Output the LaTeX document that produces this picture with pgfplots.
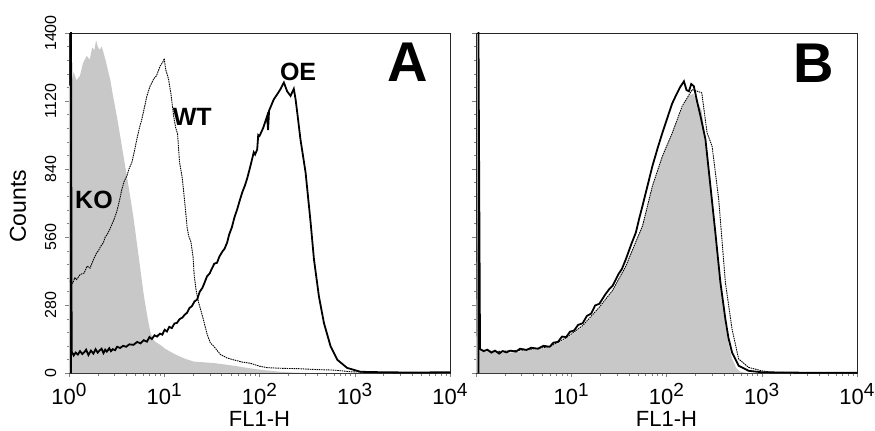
\documentclass[border=0pt]{standalone}
\usepackage{fontspec}
\setmainfont{Liberation Sans}
\usepackage{pgfplots}
\pgfplotsset{compat=1.18}

\definecolor{FillGray}{RGB}{200,200,200}
\newcommand{\dec}[1]{10\raisebox{8bp}{\fontsize{19bp}{19bp}\selectfont #1}}

\tikzset{
  dottedcurve/.style={black, line width=0.9bp, dash pattern=on 1.5bp off 0.8bp},
  solidcurve/.style={black, line width=1.8bp},
  grayfill/.style={fill=FillGray, draw=none},
  curvetag/.style={font=\bfseries\fontsize{25bp}{28bp}\selectfont},
  paneltag/.style={font=\bfseries\fontsize{56bp}{60bp}\selectfont},
}

\begin{document}
\begin{tikzpicture}
\useasboundingbox (-69bp,-58bp) rectangle (806bp,373bp);

% ---------------- panel A ----------------
\begin{axis}[
  at={(0bp,0bp)}, anchor=south west,
  scale only axis, width=381bp, height=340bp,
  xmode=log, xmin=1, xmax=10000, ymin=0, ymax=1400,
  xtick={1,10,100,1000,10000},
  minor xtick={2,3,4,5,6,7,8,9,20,30,40,50,60,70,80,90,200,300,400,500,600,700,800,900,2000,3000,4000,5000,6000,7000,8000,9000},
  ytick={0,280,560,840,1120,1400}, minor y tick num=4,
  xtick pos=bottom, ytick pos=left, tick align=outside,
  major tick length=4bp, minor tick length=2.5bp,
  axis line style={black!85, line width=0.8bp},
  xticklabel style={font=\fontsize{22bp}{24bp}\selectfont, anchor=base, inner sep=0pt, yshift=-27bp},
  yticklabel style={font=\fontsize{16bp}{18bp}\selectfont, xshift=-9bp, rotate=90, anchor=base, inner sep=0pt},
  xticklabels={\dec{0},\dec{1},\dec{2},\dec{3},\dec{4}},
  yticklabels={0,280,560,840,1120,1400},
  xlabel={FL1-H},
  xlabel style={at={(axis description cs:0.5,-0.157)}, anchor=base, inner sep=0pt,
                font=\fontsize{22bp}{24bp}\selectfont},
  ylabel={Counts},
  ylabel style={at={(axis description cs:-0.134,0.49)}, anchor=center,
                font=\fontsize{23bp}{25bp}\selectfont}]
% KO
\addplot[grayfill] coordinates {
 (1.0,1180)(1.06,1195)(1.12,1240)(1.2,1205)(1.306,1225)(1.4,1275)(1.535,1306)
 (1.65,1290)(1.75,1340)(1.85,1330)(1.923,1370)(2.0,1345)(2.1,1330)(2.2,1345)
 (2.296,1321)(2.45,1280)(2.55,1250)(2.704,1210)(2.9,1140)(3.177,1058)(3.45,975)
 (3.733,893)(4.05,810)(4.385,728)(4.75,640)(5.152,537)(5.6,430)(6.053,330)
 (6.4,270)(6.839,206)(7.2,165)(7.709,136)(8.3,125)(9.078,116)(10.2,100)
 (11.56,88)(13,77)(14.72,67)(17,57)(20.42,47)(26,44)(33.1,41)(45,34)(60,27)
 (74.1,21)(100,14)(130,9)(166,5)(220,2)(316,0)(10000,0)
} \closedcycle;
% WT
\addplot[dottedcurve] coordinates {
 (1.02,378)(1.094,370)(1.15,392)(1.202,385)(1.306,405)(1.445,412)(1.55,440)
 (1.663,432)(1.820,470)(1.954,495)(2.05,505)(2.138,520)(2.296,537)(2.4,560)
 (2.512,570)(2.704,595)(2.951,630)(3.177,665)(3.388,710)(3.589,756)(3.802,790)
 (4.046,811)(4.266,840)(4.571,867)(4.898,920)(5.152,962)(5.495,1010)
 (5.821,1045)(6.166,1090)(6.577,1141)(7.079,1180)(7.727,1210)(8.318,1225)
 (9.078,1265)(9.661,1280)(10.0,1295)(10.35,1250)(11.09,1210)(11.75,1150)
 (12.53,1060)(13.18,1010)(13.80,985)(14.45,870)(15.49,800)(16.63,680)
 (17.38,600)(18.03,565)(19.05,540)(20.04,480)(20.65,400)(21.63,340)(22.96,290)
 (24.55,250)(25.94,215)(28.18,160)(30.48,124)(33.11,110)(38.90,76)(45.71,62)
 (53.70,54)(66.07,45)(80.35,40)(100,28)(120.2,22)(177.8,19)(251.2,18)
 (398.1,14)(602.6,12)(912.0,5)(1585,2)(3981,1)(10000,1)
};
% OE
\addplot[solidcurve] coordinates {
 (1.05,0)(1.05,1450)(1.067,88)(1.12,72)(1.175,84)(1.24,76)(1.306,90)(1.38,78)
 (1.45,86)(1.514,96)(1.6,74)(1.7,92)(1.803,80)(1.9,98)(2.0,84)(2.089,92)
 (2.2,100)(2.3,82)(2.4,96)(2.495,88)(2.65,102)(2.75,90)(2.884,98)(3.05,94)
 (3.2,108)(3.443,103)(3.7,112)(3.981,108)(4.3,118)(4.753,116)(5.2,128)
 (5.623,122)(6.1,135)(6.577,129)(7.0,148)(7.413,140)(7.9,155)(8.375,150)
 (9.0,162)(9.550,158)(10.1,178)(10.67,171)(11.3,190)(12.02,185)(12.8,204)
 (13.58,206)(14.5,222)(15.49,228)(16.4,240)(17.34,248)(18.4,268)(19.50,275)
 (20.8,295)(22.08,302)(23.6,335)(25.12,350)(26.5,372)(28.12,398)(30,410)
 (31.62,430)(33.5,450)(35.81,454)(38,480)(40.74,500)(43,512)(45.71,537)
 (48,570)(51.29,600)(54.5,640)(58.21,673)(62,710)(66.07,745)(70,770)
 (74.13,800)(80,850)(87.10,909)(90,900)(94.62,921)(97,980)(100,976)
 (109.6,1010)(120.2,1058)(123,1000)(126,1080)(141.3,1127)(154.9,1150)
 (166.0,1169)(180.3,1196)(195.0,1160)(211.8,1141)(229.1,1170)(239.3,1127)
 (251.2,1060)(269.2,962)(304.8,825)(344.4,618)(373.3,467)(420.7,315)
 (475.3,205)(558.5,109)(657.7,54)(831.8,21)(1148,5)(1995,3)(3981,2)(10000,3)
};
\node[curvetag] at (axis cs:1.83,714) {KO};
\node[curvetag] at (axis cs:19.7,1055) {WT};
\node[curvetag] at (axis cs:254,1241) {OE};
\node[paneltag] at (axis cs:3614,1280) {A};
\end{axis}

% ---------------- panel B ----------------
\begin{axis}[
  at={(407bp,0bp)}, anchor=south west,
  scale only axis, width=381bp, height=340bp,
  xmode=log, xmin=1, xmax=10000, ymin=0, ymax=1400,
  xtick={1,10,100,1000,10000},
  minor xtick={2,3,4,5,6,7,8,9,20,30,40,50,60,70,80,90,200,300,400,500,600,700,800,900,2000,3000,4000,5000,6000,7000,8000,9000},
  ytick={0,280,560,840,1120,1400}, minor y tick num=4,
  xtick pos=bottom, ytick pos=left, tick align=outside,
  major tick length=4bp, minor tick length=2.5bp,
  axis line style={black!85, line width=0.8bp},
  xticklabel style={font=\fontsize{22bp}{24bp}\selectfont, anchor=base, inner sep=0pt, yshift=-27bp},
  xticklabels={,\dec{1},\dec{2},\dec{3},\dec{4}},
  yticklabels={},
  xlabel={FL1-H},
  xlabel style={at={(axis description cs:0.5,-0.157)}, anchor=base, inner sep=0pt,
                font=\fontsize{22bp}{24bp}\selectfont}]
\addplot[grayfill] coordinates {
 (1.0,0)(1.03,749)(1.07,90)(1.318,88)(2.089,82)(3.388,92)(5.93,105)(8.851,140)
 (13.18,190)(19.72,268)(27.16,335)(37.5,440)(47.64,540)(55.98,610)(71.12,770)
 (90.57,890)(115,990)(146,1090)(170,1140)(190,1150)(210,1120)(234,1080)
 (256,960)(289,770)(326,578)(368,373)(415,200)(447,120)(487,60)(540,20)
 (600,5)(700,0)(10000,0)
} \closedcycle;
\addplot[dottedcurve] coordinates {
 (1.102,95)(1.585,88)(3.388,95)(5.93,108)(8.851,145)(13.18,195)(19.72,271)
 (27.16,340)(37.50,441)(47.64,540)(55.98,605)(71.12,770)(90.57,893)(115.1,989)
 (146.2,1099)(186.2,1167)(234.4,1154)(266.7,989)(301.3,933)(353.2,715)
 (415.0,373)(487.5,181)(571.5,58)(727.8,23)(1000,9)(1259,3)(3162,1)(10000,1)
};
\addplot[solidcurve] coordinates {
 (1.06,0)(1.06,1450)(1.102,99)(1.2,90)(1.318,96)(1.45,84)(1.585,92)(1.75,80)
 (1.9,90)(2.089,85)(2.3,92)(2.630,88)(2.9,100)(3.388,95)(3.8,104)(4.467,100)
 (5.1,112)(5.93,108)(6.5,125)(7.244,128)(8.0,150)(8.851,148)(9.7,170)
 (10.72,175)(11.8,198)(13.18,205)(14.6,235)(16.22,245)(17.8,278)(19.72,285)
 (22.91,325)(25,345)(27.16,359)(31.62,410)(34,428)(37.50,469)(42.66,530)
 (47.64,578)(52,640)(55.98,688)(63.10,770)(71.12,852)(81.28,930)(90.57,989)
 (106.2,1071)(114.8,1110)(124.7,1140)(138.0,1175)(152.4,1201)(162.2,1165)
 (171.8,1160)(182.0,1190)(193.6,1181)(208.9,1120)(227.5,1058)(256.4,962)
 (289.1,770)(325.8,578)(368.1,373)(415.0,222)(446.7,145)(487.5,85)(571.5,30)
 (727.8,9)(1000,3)(3162,1)(10000,1)
};
\node[paneltag] at (axis cs:3470,1274) {B};
\end{axis}
\end{tikzpicture}
\end{document}
